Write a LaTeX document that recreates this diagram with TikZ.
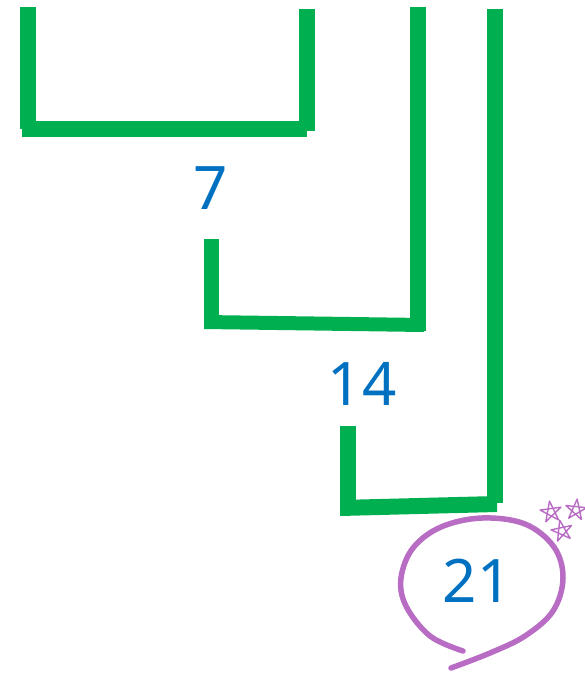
\documentclass[tikz,border=0pt]{standalone}
\usepackage{fontspec}
\setmainfont{Noto Sans}
\usepackage{tikz}
\definecolor{bargreen}{HTML}{00B050}
\definecolor{numblue}{HTML}{0070C0}
\definecolor{ringpurple}{HTML}{B86CC4}
\tikzset{
  greenbar/.style={fill=bargreen},
  numlabel/.style={text=numblue, font=\fontsize{60}{60}\selectfont, inner sep=0pt},
  ring/.style={draw=ringpurple, line width=5.5pt, line cap=round},
  starline/.style={draw=ringpurple, line width=1.4pt, line join=round}
}

\begin{document}
\begin{tikzpicture}[x=1pt, y=-1pt]
  \useasboundingbox (0,0) rectangle (585,674);
  % first bracket
  \fill[greenbar] (20,7) rectangle (36,129);
  \fill[greenbar] (299,9) rectangle (315,131);
  \fill[greenbar] (22,121) rectangle (307,137);
  % second bracket
  \fill[greenbar] (204,239) rectangle (219,325);
  \fill[greenbar] (410,7) rectangle (426,331);
  \fill[greenbar] (204,315) -- (424,318) -- (424,332) -- (204,329) -- cycle;
  % third bracket
  \fill[greenbar] (340,426) rectangle (356,512);
  \fill[greenbar] (487,9) rectangle (503,503);
  \fill[greenbar] (340,500) -- (497,496) -- (497,512) -- (340,516) -- cycle;
  % numbers
  \node[numlabel] (seven) at (211,188) {7};
  \node[numlabel] (fourteen) at (362,384) {14};
  \node[numlabel] (total) at (477,581) {21};
  % ring round the total
  \draw[ring] plot[smooth, tension=0.6] coordinates {(463,651) (430,636) (406,606) (401,578) (413,548) (441,527) (482,518) (525,524) (554,547) (563,578) (553,611) (525,636) (490,653) (451,668)};
  % stars
  \foreach \cx/\cy/\tilt in {551/512/8, 576/510/-6, 562/531/12}
    \draw[starline, shift={(\cx,\cy)}, rotate=\tilt] (-90:11) -- (54:11) -- (198:11) -- (342:11) -- (126:11) -- cycle;
\end{tikzpicture}
\end{document}
